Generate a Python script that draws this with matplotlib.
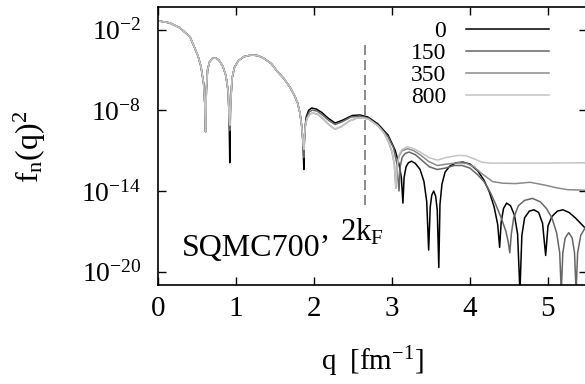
import numpy as np
import matplotlib
matplotlib.use("Agg")
import matplotlib.pyplot as plt

plt.rcParams['font.family'] = ['Liberation Serif', 'DejaVu Serif']
plt.rcParams['mathtext.fontset'] = 'custom'
plt.rcParams['mathtext.rm'] = 'Liberation Serif'
plt.rcParams['mathtext.it'] = 'Liberation Serif:italic'

# ============ DATA (log10 of f_n(q)^2) ============
# common part for q < 1.87 (all curves overlap there, only the dip depths differ)
q_low = [0.0, 0.15, 0.28, 0.41, 0.51, 0.55, 0.585, 0.60, 0.61, 0.62, 0.635, 0.66,
         0.70, 0.74, 0.78, 0.83, 0.87, 0.90, 0.912, 0.92, 0.93, 0.95, 0.98, 1.03,
         1.10, 1.20, 1.28, 1.35, 1.45, 1.53, 1.61, 1.69, 1.75, 1.79, 1.82, 1.845, 1.86]
L_low_black = [-1.33, -1.48, -1.85, -2.52, -3.9, -4.7, -6.0, -7.5, -9.6, -6.5, -5.0, -4.4,
               -4.12, -4.1, -4.25, -4.7, -5.4, -6.6, -8.5, -11.9, -7.6, -5.6, -4.8, -4.3,
               -4.0, -3.87, -3.92, -4.1, -4.5, -5.1, -5.6, -6.25, -6.9, -7.45, -8.2, -9.3, -10.5]
dip2_150 = -9.5
dip2_gray = -9.1

# T = 0
q_0 = [1.87, 1.875, 1.885, 1.90, 1.93, 1.97, 2.03, 2.10, 2.18, 2.27, 2.37, 2.49, 2.59,
       2.69, 2.82, 2.95, 3.04, 3.09, 3.12, 3.14, 3.155, 3.18, 3.21, 3.25, 3.30, 3.36,
       3.41, 3.445, 3.47, 3.49, 3.51, 3.535, 3.56, 3.58, 3.60, 3.615, 3.64, 3.68, 3.74,
       3.82, 3.91, 4.00, 4.10, 4.18, 4.25, 4.31, 4.355, 4.38, 4.40, 4.43, 4.47, 4.52,
       4.57, 4.61, 4.64, 4.665, 4.70, 4.76, 4.82, 4.88, 4.93, 4.97, 5.00, 5.05, 5.12,
       5.19, 5.27, 5.35, 5.5]
L_0 = [-12.4, -10.5, -9.3, -8.5, -8.0, -7.82, -7.9, -8.15, -8.57, -8.94, -8.72, -8.38, -8.34,
       -8.49, -9.01, -9.84, -10.96, -12.0, -13.0, -14.9, -13.0, -12.2, -11.9, -11.78, -11.95, -12.4,
       -13.3, -14.8, -18.4, -15.2, -14.3, -14.0, -14.4, -15.4, -19.7, -15.0, -13.5, -12.6, -12.15,
       -11.9, -11.85, -12.0, -12.5, -13.2, -14.1, -15.2, -16.5, -18.2, -16.3, -15.3, -14.9, -15.1,
       -15.8, -17.2, -21.5, -17.3, -16.0, -15.5, -15.4, -15.6, -16.4, -18.8, -16.6, -15.9, -15.5,
       -15.4, -15.6, -16.0, -16.9]

# T = 150
q_150 = [1.87, 1.878, 1.89, 1.91, 1.94, 1.98, 2.04, 2.11, 2.19, 2.27, 2.36, 2.47, 2.59,
         2.69, 2.82, 2.95, 3.02, 3.06, 3.09, 3.105, 3.13, 3.17, 3.22, 3.30, 3.38, 3.48,
         3.58, 3.68, 3.80, 3.90, 4.00, 4.10, 4.18, 4.26, 4.33, 4.40, 4.46, 4.49, 4.51,
         4.53, 4.56, 4.62, 4.70, 4.80, 4.90, 4.98, 5.05, 5.11, 5.15, 5.17, 5.19, 5.22,
         5.265, 5.31, 5.34, 5.36, 5.38, 5.42, 5.5]
L_150 = [-11.5, -10.0, -9.1, -8.5, -8.1, -7.98, -8.05, -8.35, -8.75, -9.05, -8.85, -8.5, -8.42,
         -8.57, -9.1, -9.95, -10.8, -11.9, -14.0, -12.2, -11.5, -11.2, -11.1, -11.3, -11.7, -12.2,
         -12.4, -12.3, -12.1, -12.1, -12.3, -12.8, -13.3, -14.1, -15.0, -16.0, -17.0, -17.8, -18.6,
         -17.2, -16.0, -15.1, -14.7, -14.55, -14.8, -15.3, -16.0, -17.1, -18.6, -21.5, -18.6, -17.5,
         -17.1, -17.5, -18.6, -21.5, -18.6, -17.3, -16.5]

# T = 350
q_350 = [1.87, 1.878, 1.89, 1.91, 1.95, 1.99, 2.05, 2.12, 2.20, 2.27, 2.35, 2.45, 2.55,
         2.62, 2.70, 2.82, 2.90, 2.96, 3.00, 3.03, 3.05, 3.065, 3.09, 3.13, 3.20, 3.28,
         3.36, 3.47, 3.58, 3.70, 3.85, 3.95, 4.05, 4.15, 4.22, 4.29, 4.42, 4.58, 4.77,
         4.95, 5.10, 5.25, 5.5]
L_350 = [-10.9, -9.9, -9.1, -8.6, -8.25, -8.2, -8.3, -8.65, -9.1, -9.4, -9.2, -8.8, -8.57,
         -8.55, -8.65, -9.15, -9.7, -10.4, -11.1, -12.0, -13.8, -12.2, -11.4, -11.0, -10.85, -11.0,
         -11.3, -11.8, -12.1, -12.0, -11.9, -11.93, -12.2, -12.7, -13.0, -13.3, -13.42, -13.45, -13.35,
         -13.55, -13.75, -13.9, -13.95]

# T = 800
q_800 = [1.87, 1.878, 1.89, 1.91, 1.95, 1.99, 2.05, 2.12, 2.20, 2.27, 2.35, 2.45, 2.55,
         2.62, 2.70, 2.82, 2.90, 2.96, 3.00, 3.03, 3.05, 3.065, 3.09, 3.13, 3.20, 3.28,
         3.36, 3.47, 3.58, 3.70, 3.85, 3.95, 4.05, 4.15, 4.25, 4.50, 5.00, 5.5]
L_800 = [-10.9, -9.9, -9.1, -8.6, -8.25, -8.2, -8.3, -8.65, -9.1, -9.4, -9.2, -8.8, -8.57,
         -8.55, -8.65, -9.15, -9.7, -10.4, -11.1, -12.0, -13.8, -12.2, -11.3, -10.9, -10.7, -10.85,
         -11.1, -11.5, -11.7, -11.5, -11.35, -11.38, -11.6, -11.85, -11.92, -11.93, -11.92, -11.9]

labels = ["0", "150", "350", "800"]
colors = ["#000000", "#666666", "#8a8a8a", "#c4c4c4"]

kF2 = 2.65            # position of 2k_F
kF2_span = (-15.06, -2.97)

# ============ PLOT ============
fig = plt.figure(figsize=(5.85, 3.84), dpi=100)
ax = fig.add_axes([158/585, 99/384, 429/585, 278/384])

i_dip2 = q_low.index(0.92)
L_low_150 = L_low_black[:i_dip2] + [dip2_150] + L_low_black[i_dip2 + 1:]
L_low_gray = L_low_black[:i_dip2] + [dip2_gray] + L_low_black[i_dip2 + 1:]

series = [(q_low + q_0, L_low_black + L_0),
          (q_low + q_150, L_low_150 + L_150),
          (q_low + q_350, L_low_gray + L_350),
          (q_low + q_800, L_low_gray + L_800)]
for (q, L), lab, c in zip(series, labels, colors):
    ax.plot(q, 10.0 ** np.array(L), color=c, lw=1.1, label=lab)

ax.vlines(kF2, 10.0 ** kF2_span[0], 10.0 ** kF2_span[1], colors="#777777",
          linestyles=(0, (6, 3)), lw=1.2)

ax.set_yscale("log")
ax.set_xlim(0, 5.5)
ax.set_ylim(1e-21, 10 ** -0.3)
ax.set_xticks([0, 1, 2, 3, 4, 5])
ax.set_yticks([1e-2, 1e-8, 1e-14, 1e-20])
ax.set_yticklabels([r"$10^{-2}$", r"$10^{-8}$", r"$10^{-14}$", r"$10^{-20}$"])
ax.minorticks_off()
ax.tick_params(direction="in", top=True, right=True, length=6, width=1.0)
ax.tick_params(axis="x", labelsize=21, pad=8)
ax.tick_params(axis="y", labelsize=20, pad=12)
for s in ax.spines.values():
    s.set_linewidth(1.2)

fig.text(30/585, 1 - 147/384, r"$\mathrm{f_n(q)^2}$", rotation=90,
         ha="center", va="center", fontsize=23)
fig.text(372/585, 1 - 362/384, r"$\mathrm{q\ \ [fm^{-1}]}$",
         ha="center", va="center", fontsize=21)

ax.text(0.056, 0.104, "SQMC700\u2019", transform=ax.transAxes,
        fontsize=23, ha="left", va="baseline")
ax.text(0.424, 0.16, r"$\mathrm{2k_F}$", transform=ax.transAxes,
        fontsize=22, ha="left", va="baseline")

ax.legend(loc="upper right", bbox_to_anchor=(0.911, 0.95), frameon=False,
          markerfirst=False, handlelength=3.5, handletextpad=0.85,
          labelspacing=0.02, borderpad=0, borderaxespad=0, fontsize=17)

fig.savefig("out.png", dpi=100)
